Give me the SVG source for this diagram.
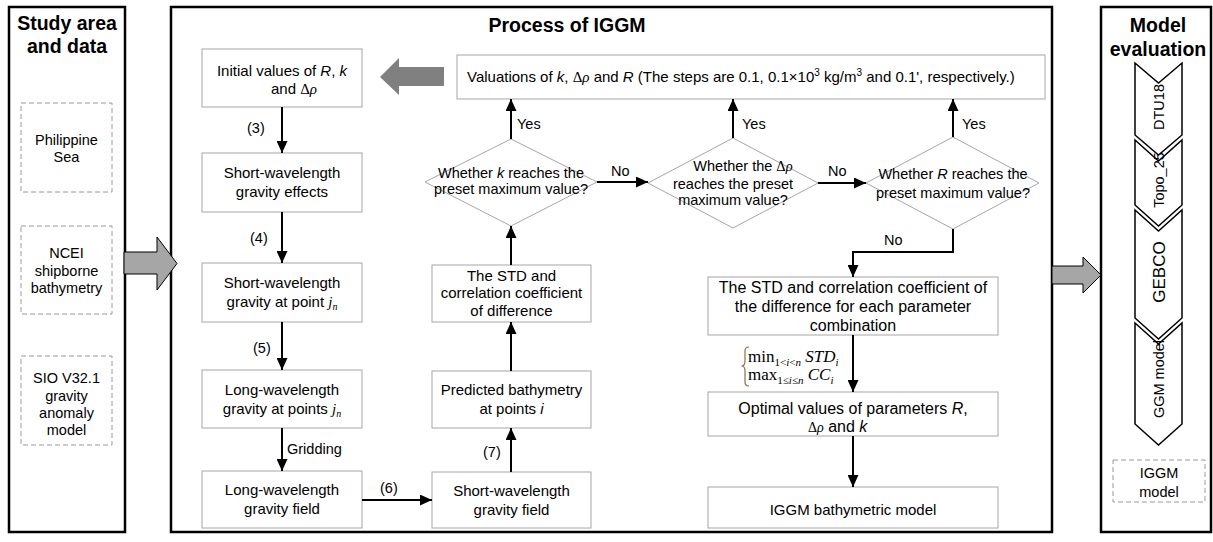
<svg xmlns="http://www.w3.org/2000/svg" width="1213" height="542" viewBox="0 0 1213 542">
<style>
text{font-family:"Liberation Sans",Arial,sans-serif;fill:#000}
.t{font-size:15px}
.s14{font-size:14.5px}
.c{text-anchor:middle}
.title{font-size:19.5px;font-weight:bold;text-anchor:middle}
.i{font-style:italic}
.g{font-family:"Liberation Serif","Times New Roman",serif}
.gi{font-family:"Liberation Serif","Times New Roman",serif;font-style:italic}
.panel{fill:#fff;stroke:#000;stroke-width:2.5}
.box{fill:#fff;stroke:#a6a6a6;stroke-width:1}
.dash{fill:#fff;stroke:#9a9a9a;stroke-width:1;stroke-dasharray:5,3}
.dia{fill:#fff;stroke:#a6a6a6;stroke-width:1}
.ln{fill:none;stroke:#000;stroke-width:2;marker-end:url(#ah)}
.big{fill:#a6a6a6;stroke:#000;stroke-width:1}
.chev{fill:#fff;stroke:#000;stroke-width:1.5;stroke-linejoin:miter}
</style>
<defs>
<marker id="ah" viewBox="0 0 12 11" refX="12" refY="5.5" markerWidth="12" markerHeight="11" markerUnits="userSpaceOnUse" orient="auto">
<path d="M0,0 L12,5.5 L0,11 z" fill="#000"/>
</marker>
</defs>
<rect width="1213" height="542" fill="#fff"/>

<!-- Panels -->
<g id="panel-study">
<rect class="panel" x="9" y="7" width="116" height="525"/>
<text class="title" x="67" y="30">Study area</text>
<text class="title" x="67" y="53">and data</text>
</g>
<g id="panel-process">
<rect class="panel" x="171" y="7" width="881" height="525"/>
<text class="title" x="567" y="32">Process of IGGM</text>
</g>
<g id="panel-eval">
<rect class="panel" x="1101" y="7" width="110" height="525"/>
<text class="title" x="1158" y="32">Model</text>
<text class="title" x="1158" y="56">evaluation</text>
</g>

<!-- Left data nodes -->
<g id="n-philippine">
<rect class="dash" x="21" y="103" width="91" height="89"/>
<text class="s14 c" x="66.5" y="145">Philippine</text>
<text class="s14 c" x="66.5" y="162">Sea</text>
</g>
<g id="n-ncei">
<rect class="dash" x="21" y="226" width="91" height="88"/>
<text class="s14 c" x="66.5" y="258">NCEI</text>
<text class="s14 c" x="66.5" y="276">shipborne</text>
<text class="s14 c" x="66.5" y="293">bathymetry</text>
</g>
<g id="n-sio">
<rect class="dash" x="21" y="356" width="91" height="89"/>
<text class="s14 c" x="66.5" y="383">SIO V32.1</text>
<text class="s14 c" x="66.5" y="401">gravity</text>
<text class="s14 c" x="66.5" y="418">anomaly</text>
<text class="s14 c" x="66.5" y="435">model</text>
</g>

<!-- Process nodes -->
<g id="n-initial">
<rect class="box" x="202" y="49" width="160" height="58"/>
<text class="t c" x="282" y="76">Initial values of <tspan class="i">R</tspan>, <tspan class="i">k</tspan></text>
<text class="t c" x="294" y="94">and <tspan class="g">Δ</tspan><tspan class="gi">ρ</tspan></text>
</g>
<g id="n-sw-effects">
<rect class="box" x="202" y="153" width="160" height="59"/>
<text class="t c" x="282" y="178">Short-wavelength</text>
<text class="t c" x="282" y="197">gravity effects</text>
</g>
<g id="n-sw-point">
<rect class="box" x="202" y="263" width="160" height="59"/>
<text class="t c" x="282" y="288">Short-wavelength</text>
<text class="t c" x="282" y="307">gravity at point <tspan class="gi">j</tspan><tspan class="gi" font-size="10" dy="3">n</tspan></text>
</g>
<g id="n-lw-points">
<rect class="box" x="202" y="370" width="160" height="58"/>
<text class="t c" x="282" y="395">Long-wavelength</text>
<text class="t c" x="282" y="414">gravity at  points <tspan class="gi">j</tspan><tspan class="gi" font-size="10" dy="3">n</tspan></text>
</g>
<g id="n-lw-field">
<rect class="box" x="202" y="471" width="160" height="57"/>
<text class="t c" x="282" y="495">Long-wavelength</text>
<text class="t c" x="282" y="514">gravity field</text>
</g>
<g id="n-sw-field">
<rect class="box" x="432" y="472" width="159" height="56"/>
<text class="t c" x="511.5" y="496">Short-wavelength</text>
<text class="t c" x="511.5" y="515">gravity field</text>
</g>
<g id="n-predicted">
<rect class="box" x="432" y="371" width="159" height="57"/>
<text class="t c" x="511.5" y="395">Predicted bathymetry</text>
<text class="t c" x="511.5" y="414">at  points <tspan class="i">i</tspan></text>
</g>
<g id="n-std">
<rect class="box" x="432" y="265" width="159" height="57"/>
<text class="t c" x="511.5" y="281">The STD and</text>
<text class="t c" x="511.5" y="298">correlation coefficient</text>
<text class="t c" x="511.5" y="316">of difference</text>
</g>
<g id="n-valuations">
<rect class="box" x="457" y="55" width="588" height="44"/>
<text class="t" x="467" y="82">Valuations of <tspan class="i">k</tspan>,  <tspan class="g">Δ</tspan><tspan class="gi">ρ</tspan> and <tspan class="i">R</tspan> (The steps are  0.1, 0.1×10<tspan font-size="10" dy="-6">3</tspan><tspan dy="6"> kg/m</tspan><tspan font-size="10" dy="-6">3</tspan><tspan dy="6"> and 0.1', respectively.)</tspan></text>
</g>
<g id="n-dk">
<polygon class="dia" points="511,139 597,182 511,226 425,182"/>
<text class="s14 c" x="511" y="178">Whether <tspan class="i">k</tspan> reaches the</text>
<text class="s14 c" x="511" y="194">preset maximum value?</text>
</g>
<g id="n-drho">
<polygon class="dia" points="733,138 818,183 733,228 648,183"/>
<text class="s14 c" x="743" y="171">Whether the <tspan class="g">Δ</tspan><tspan class="gi">ρ</tspan></text>
<text class="s14 c" x="733" y="189">reaches the preset</text>
<text class="s14 c" x="733" y="205">maximum value?</text>
</g>
<g id="n-dr">
<polygon class="dia" points="953,137 1039,183 953,229 866,183"/>
<text class="s14 c" x="953" y="179">Whether <tspan class="i">R</tspan> reaches the</text>
<text class="s14 c" x="953" y="198">preset maximum value?</text>
</g>
<g id="n-std-comb">
<rect class="box" x="708" y="277" width="290" height="58"/>
<text class="c" font-size="16" x="853" y="293">The STD and correlation coefficient of</text>
<text class="c" font-size="16" x="853" y="312">the difference for each parameter</text>
<text class="c" font-size="16" x="853" y="331">combination</text>
</g>
<g id="n-optimal">
<rect class="box" x="708" y="392" width="290" height="44"/>
<text class="c" font-size="16" x="853" y="414">Optimal values of parameters <tspan class="i">R</tspan>,</text>
<text font-size="16" x="808" y="432"><tspan class="g" font-size="14">Δ</tspan><tspan class="gi" font-size="14">ρ</tspan>  and <tspan class="i">k</tspan></text>
</g>
<g id="n-iggm">
<rect class="box" x="708" y="487" width="290" height="41"/>
<text class="t c" x="853" y="515">IGGM bathymetric model</text>
</g>

<!-- Right evaluation nodes (drawn bottom-up so upper chevrons overlap lower ones) -->
<g id="n-ggm">
<path class="chev" d="M1135,323 L1158.5,344 L1182,323 L1182,424 L1158.5,445 L1135,424 Z"/>
<text class="s14 c" transform="translate(1164,379) rotate(-90)">GGM model</text>
</g>
<g id="n-gebco">
<path class="chev" d="M1135,210 L1158.5,231 L1182,210 L1182,318 L1158.5,339 L1135,318 Z"/>
<text class="c" font-size="17" transform="translate(1165,272) rotate(-90)">GEBCO</text>
</g>
<g id="n-topo">
<path class="chev" d="M1135,140 L1158.5,161 L1182,140 L1182,205 L1158.5,226 L1135,205 Z"/>
<text class="s14 c" transform="translate(1164,174) rotate(-90)">Topo_25.1</text>
</g>
<g id="n-dtu">
<path class="chev" d="M1135,63 L1158.5,83 L1182,63 L1182,135 L1158.5,155 L1135,135 Z"/>
<text class="s14 c" transform="translate(1164,107) rotate(-90)">DTU18</text>
</g>
<g id="n-iggm-model">
<rect class="dash" x="1113" y="460" width="92" height="42"/>
<text class="s14 c" x="1159" y="478">IGGM</text>
<text class="s14 c" x="1159" y="497">model</text>
</g>

<!-- Connectors -->
<g id="connectors">
<polygon class="big" points="124,252 157,252 157,237 177,263.5 157,290 157,274 124,274"/>
<polygon class="big" points="1052,266 1083,266 1083,257 1101,275 1083,293 1083,284 1052,284"/>
<polygon fill="#808080" points="380,77 399,58 399,67 444,67 444,86 399,86 399,95"/>

<line class="ln" x1="282" y1="107" x2="282" y2="153"/>
<line class="ln" x1="282" y1="212" x2="282" y2="263"/>
<line class="ln" x1="282" y1="322" x2="282" y2="370"/>
<line class="ln" x1="282" y1="428" x2="282" y2="471"/>
<line class="ln" x1="362" y1="500" x2="432" y2="500"/>
<line class="ln" x1="511" y1="472" x2="511" y2="428"/>
<line class="ln" x1="511" y1="371" x2="511" y2="322"/>
<line class="ln" x1="511" y1="265" x2="511" y2="226"/>
<line class="ln" x1="511" y1="139" x2="511" y2="99"/>
<line class="ln" x1="597" y1="182" x2="648" y2="182"/>
<line class="ln" x1="733" y1="138" x2="733" y2="99"/>
<line class="ln" x1="818" y1="183" x2="866" y2="183"/>
<line class="ln" x1="953" y1="137" x2="953" y2="99"/>
<polyline class="ln" points="953,229 953,252 853,252 853,277"/>
<line class="ln" x1="853" y1="335" x2="853" y2="392"/>
<line class="ln" x1="853" y1="436" x2="853" y2="487"/>

<text class="s14" x="247" y="133">(3)</text>
<text class="s14" x="250" y="243">(4)</text>
<text class="s14" x="253" y="353">(5)</text>
<text class="s14" x="287" y="454">Gridding</text>
<text class="s14" x="380" y="493">(6)</text>
<text class="s14" x="483" y="457">(7)</text>
<text class="s14" x="517" y="129">Yes</text>
<text class="s14" x="742" y="129">Yes</text>
<text class="s14" x="962" y="129">Yes</text>
<text class="s14" x="611" y="176">No</text>
<text class="s14" x="828" y="176">No</text>
<text class="s14" x="884" y="245">No</text>

<path d="M749,347 Q745,347 745,351 L745,361 Q745,366 741.5,366 Q745,366 745,371 L745,382 Q745,386 749,386" fill="none" stroke="#8c6d4f" stroke-width="1.2"/>
<text class="g" font-size="17" x="748" y="362">min<tspan font-size="11" dy="4">1&lt;<tspan class="gi">i</tspan>&lt;<tspan class="gi">n</tspan></tspan><tspan class="gi" font-size="17" dy="-4"> STD</tspan><tspan class="gi" font-size="11" dy="4">i</tspan></text>
<text class="g" font-size="17" x="748" y="380">max<tspan font-size="11" dy="4">1≤<tspan class="gi">i</tspan>≤<tspan class="gi">n</tspan></tspan><tspan class="gi" font-size="17" dy="-4"> CC</tspan><tspan class="gi" font-size="11" dy="4">i</tspan></text>
</g>
</svg>
